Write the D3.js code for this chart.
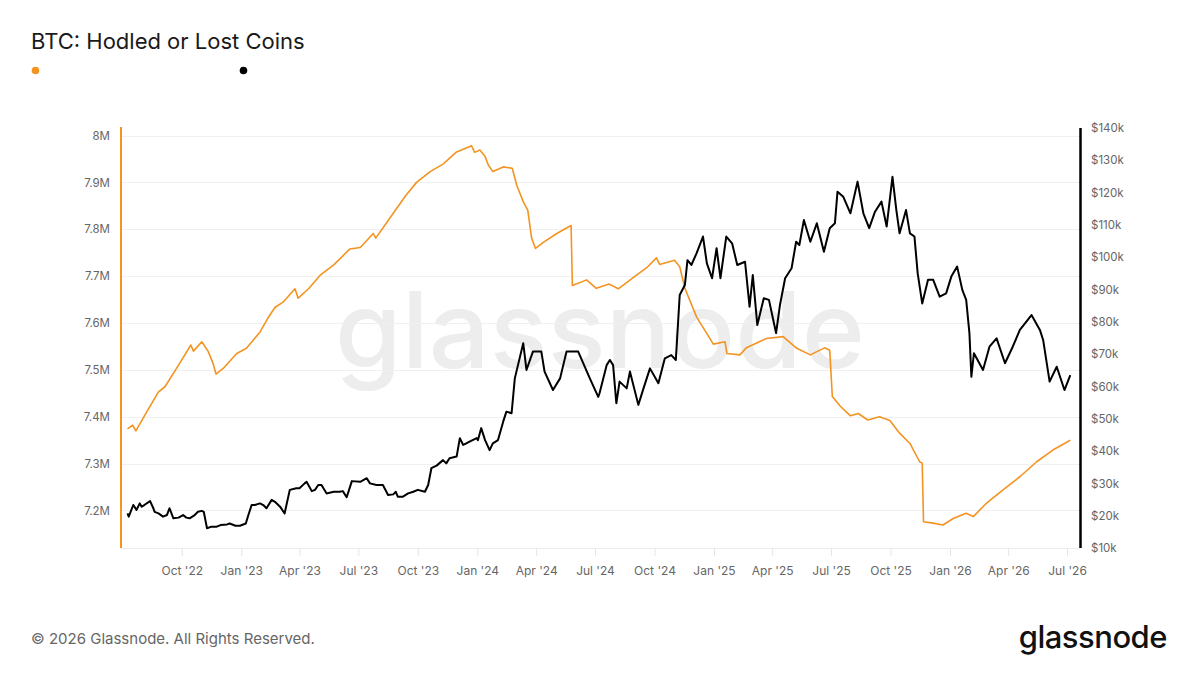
<!DOCTYPE html>
<html>
<head>
<meta charset="utf-8">
<script src="https://cdn.jsdelivr.net/npm/d3@7"></script>
<style>
  body { margin: 0; background: #fff; }
  svg { font-family: Inter, "Noto Sans", sans-serif; }
</style>
</head>
<body>
<svg width="1200" height="675"></svg>
<script>
// hodled or lost coins, millions of BTC
var coinDates = ["2022-07-09","2022-07-17","2022-07-22","2022-08-08","2022-08-26","2022-09-05","2022-09-26","2022-10-15","2022-10-19","2022-11-01",
  "2022-11-11","2022-11-18","2022-11-23","2022-12-04","2022-12-25","2023-01-09","2023-01-30","2023-02-11","2023-02-22","2023-03-07",
  "2023-03-25","2023-03-30","2023-04-15","2023-05-03","2023-05-24","2023-06-18","2023-07-04","2023-07-18","2023-07-24","2023-07-28",
  "2023-08-24","2023-09-13","2023-09-29","2023-10-20","2023-11-09","2023-11-30","2023-12-23","2023-12-28","2024-01-05","2024-01-13",
  "2024-01-18","2024-01-25","2024-02-10","2024-02-24","2024-03-02","2024-03-12","2024-03-19","2024-03-25","2024-03-31","2024-04-12",
  "2024-05-03","2024-05-25","2024-05-27","2024-06-18","2024-07-03","2024-07-23","2024-08-06","2024-08-29","2024-09-19","2024-10-04",
  "2024-10-09","2024-11-01","2024-11-09","2024-11-17","2024-12-05","2024-12-31","2025-01-18","2025-01-21","2025-02-10","2025-02-20",
  "2025-03-23","2025-04-18","2025-05-09","2025-05-30","2025-06-21","2025-06-29","2025-07-03","2025-07-15","2025-07-31","2025-08-12",
  "2025-08-27","2025-09-14","2025-09-30","2025-10-15","2025-10-31","2025-11-15","2025-11-19","2025-11-21","2025-12-06","2025-12-21",
  "2026-01-06","2026-01-26","2026-02-06","2026-02-26","2026-03-24","2026-04-19","2026-05-15","2026-06-09","2026-07-06"];
var coinValues = [7.374,7.382,7.370,7.411,7.453,7.464,7.510,7.553,7.540,7.560,
  7.539,7.515,7.491,7.503,7.535,7.546,7.581,7.610,7.633,7.645,
  7.673,7.653,7.673,7.702,7.724,7.758,7.761,7.782,7.791,7.781,
  7.834,7.873,7.900,7.923,7.939,7.965,7.978,7.964,7.969,7.955,
  7.937,7.923,7.933,7.930,7.894,7.859,7.841,7.781,7.759,7.772,
  7.791,7.808,7.680,7.692,7.674,7.683,7.673,7.697,7.718,7.739,
  7.725,7.734,7.720,7.674,7.613,7.555,7.560,7.535,7.532,7.547,
  7.567,7.571,7.546,7.532,7.547,7.542,7.443,7.423,7.402,7.407,
  7.393,7.400,7.392,7.365,7.343,7.304,7.301,7.176,7.173,7.169,
  7.183,7.194,7.187,7.215,7.244,7.272,7.304,7.329,7.350];

// BTC price, $k
var priceDates = ["2022-07-09","2022-07-11","2022-07-16","2022-07-18","2022-07-23","2022-07-28","2022-07-31","2022-08-04","2022-08-13","2022-08-18",
  "2022-08-20","2022-08-26","2022-09-02","2022-09-08","2022-09-12","2022-09-18","2022-09-26","2022-10-03","2022-10-08","2022-10-13",
  "2022-10-21","2022-10-26","2022-11-01","2022-11-04","2022-11-09","2022-11-16","2022-11-24","2022-11-30","2022-12-10","2022-12-14",
  "2022-12-23","2022-12-30","2023-01-08","2023-01-12","2023-01-17","2023-01-22","2023-01-30","2023-02-04","2023-02-09","2023-02-17",
  "2023-02-22","2023-03-02","2023-03-09","2023-03-17","2023-03-27","2023-04-01","2023-04-09","2023-04-12","2023-04-20","2023-04-25",
  "2023-04-30","2023-05-05","2023-05-13","2023-05-24","2023-06-02","2023-06-07","2023-06-13","2023-06-21","2023-07-04","2023-07-14",
  "2023-07-19","2023-07-29","2023-08-08","2023-08-16","2023-08-24","2023-08-28","2023-08-31","2023-09-08","2023-09-16","2023-09-24",
  "2023-10-01","2023-10-12","2023-10-17","2023-10-22","2023-10-30","2023-11-09","2023-11-14","2023-11-19","2023-11-30","2023-12-05",
  "2023-12-10","2023-12-15","2023-12-20","2023-12-31","2024-01-02","2024-01-07","2024-01-13","2024-01-20","2024-01-25","2024-02-02",
  "2024-02-10","2024-02-15","2024-02-23","2024-02-28","2024-03-12","2024-03-17","2024-03-27","2024-04-09","2024-04-14","2024-04-27",
  "2024-05-08","2024-05-18","2024-06-05","2024-06-23","2024-07-06","2024-07-08","2024-07-19","2024-07-24","2024-07-29","2024-08-03",
  "2024-08-08","2024-08-19","2024-08-24","2024-09-06","2024-09-14","2024-09-24","2024-10-07","2024-10-17","2024-10-27","2024-11-03",
  "2024-11-09","2024-11-17","2024-11-21","2024-11-27","2024-12-05","2024-12-15","2024-12-21","2024-12-29","2025-01-05","2025-01-11",
  "2025-01-20","2025-01-29","2025-02-06","2025-02-18","2025-02-25","2025-03-02","2025-03-09","2025-03-19","2025-03-27","2025-04-01",
  "2025-04-07","2025-04-13","2025-04-21","2025-05-01","2025-05-08","2025-05-13","2025-05-20","2025-05-30","2025-06-09","2025-06-20",
  "2025-06-29","2025-07-07","2025-07-11","2025-07-20","2025-07-31","2025-08-11","2025-08-20","2025-08-29","2025-09-07","2025-09-17",
  "2025-09-25","2025-10-04","2025-10-10","2025-10-15","2025-10-25","2025-10-31","2025-11-07","2025-11-12","2025-11-19","2025-11-28",
  "2025-12-06","2025-12-16","2025-12-26","2026-01-03","2026-01-12","2026-01-20","2026-01-26","2026-01-31","2026-02-03","2026-02-07",
  "2026-02-21","2026-03-03","2026-03-14","2026-03-27","2026-04-08","2026-04-19","2026-05-07","2026-05-20","2026-05-25","2026-06-04",
  "2026-06-15","2026-06-27","2026-07-06"];
var priceValues = [20.7,19.7,22.3,23.3,21.8,23.8,22.8,23.3,24.5,22.3,
  21.2,20.7,19.7,20.2,22.3,19.2,19.4,20.2,19.4,19.2,
  20.2,21.2,21.5,21.2,16.1,16.6,16.6,17.1,17.3,17.6,
  16.9,16.9,17.6,20.2,23.3,23.3,23.8,23.3,22.3,24.9,
  24.3,22.8,20.7,28.0,28.5,28.5,30.0,30.5,27.6,28.0,
  29.5,29.5,26.9,27.4,27.4,27.6,25.7,30.7,30.5,31.6,
  30.0,29.5,29.5,26.4,26.6,27.4,25.9,25.9,26.9,27.4,
  28.0,27.4,29.5,34.7,35.5,37.2,36.2,37.8,38.3,44.0,
  41.9,42.4,42.9,44.0,43.4,47.1,43.4,40.3,42.4,43.4,
  49.1,52.2,51.7,62.5,73.4,65.1,70.8,70.8,64.6,58.9,
  62.5,70.8,70.8,62.5,56.8,57.9,66.6,68.2,66.6,54.8,
  61.5,59.4,64.6,54.3,59.4,65.6,61.0,68.7,69.7,68.2,
  88.3,91.4,99.1,97.6,101.2,106.4,98.1,93.5,102.8,93.5,
  106.4,104.3,97.6,98.6,84.7,94.5,79.0,87.3,86.8,82.1,
  76.5,85.2,93.5,96.6,104.8,103.8,111.5,104.8,110.5,101.7,
  109.0,110.5,120.3,118.7,113.6,123.4,113.6,109.0,114.1,117.2,
  109.5,124.9,114.6,107.4,114.6,107.4,106.4,95.0,85.7,93.0,
  93.0,87.8,88.8,94.0,97.1,89.9,86.8,76.5,63.0,70.3,
  65.1,72.3,74.9,67.2,72.3,77.5,82.1,77.5,74.4,61.5,
  66.1,58.9,63.5];

var coinTicks = [7.2, 7.3, 7.4, 7.5, 7.6, 7.7, 7.8, 7.9, 8.0];
var priceTicks = [10, 20, 30, 40, 50, 60, 70, 80, 90, 100, 110, 120, 130, 140];

var orange = "#f39422";
var parse = d3.timeParse("%Y-%m-%d");
var coins = coinDates.map(function(d, i) { return { date: parse(d), v: coinValues[i] }; });
var prices = priceDates.map(function(d, i) { return { date: parse(d), v: priceValues[i] }; });

var svg = d3.select("svg");
var plotL = 121, plotR = 1080, plotT = 128, plotB = 548;

var x = d3.scaleTime()
  .domain([parse("2022-06-29"), parse("2026-07-21")])
  .range([plotL, plotR]);
var yL = d3.scaleLinear().domain([7.12, 8.016]).range([plotB, plotT]);
var yR = d3.scaleLinear().domain([10, 140]).range([plotB, plotT]);
var dateTicks = d3.timeMonth.every(3).range(parse("2022-10-01"), parse("2026-07-02"));

// title + legend dots
svg.append("text").attr("x", 31).attr("y", 49)
  .attr("font-size", 22).attr("fill", "#1a1a1a").text("BTC: Hodled or Lost Coins");
svg.append("circle").attr("cx", 35.5).attr("cy", 70.5).attr("r", 3.8).attr("fill", orange);
svg.append("circle").attr("cx", 243.5).attr("cy", 70.5).attr("r", 3.8).attr("fill", "#000");

// watermark
svg.append("text").attr("x", 600).attr("y", 368).attr("text-anchor", "middle")
  .attr("font-size", 106).attr("font-weight", 500).attr("fill", "#ededed")
  .attr("textLength", 530).attr("lengthAdjust", "spacingAndGlyphs")
  .text("glassnode");

// grid
svg.append("g").selectAll("line").data(coinTicks).enter().append("line")
  .attr("x1", plotL).attr("x2", plotR)
  .attr("y1", function(d) { return Math.round(yL(d)) + 0.5; })
  .attr("y2", function(d) { return Math.round(yL(d)) + 0.5; })
  .attr("stroke", "#f0f0f0");
svg.append("line").attr("x1", plotL).attr("x2", plotR).attr("y1", plotB + 0.5).attr("y2", plotB + 0.5)
  .attr("stroke", "#ececec");

// x axis
var xAxis = svg.append("g").attr("transform", "translate(0," + plotB + ")")
  .call(d3.axisBottom(x).tickValues(dateTicks).tickFormat(d3.timeFormat("%b '%y")).tickSize(8).tickPadding(10));
xAxis.select(".domain").remove();
xAxis.selectAll(".tick line").attr("stroke", "#e6e6e6");
xAxis.selectAll("text").attr("fill", "#666").attr("font-size", 12).attr("font-family", "Inter, sans-serif");

// left axis
var lAxis = svg.append("g").attr("transform", "translate(" + plotL + ",0)")
  .call(d3.axisLeft(yL).tickValues(coinTicks).tickFormat(function(d) { return d3.format(".1~f")(d) + "M"; }).tickSize(0).tickPadding(11));
lAxis.select(".domain").remove();
lAxis.selectAll("text").attr("fill", "#666").attr("font-size", 11.5).attr("font-family", "Inter, sans-serif");
svg.append("line").attr("x1", plotL).attr("x2", plotL).attr("y1", plotT - 1).attr("y2", plotB)
  .attr("stroke", orange).attr("stroke-width", 2);

// right axis
var rAxis = svg.append("g").attr("transform", "translate(" + plotR + ",0)")
  .call(d3.axisRight(yR).tickValues(priceTicks).tickFormat(function(d) { return "$" + d + "k"; }).tickSize(0).tickPadding(11));
rAxis.select(".domain").remove();
rAxis.selectAll("text").attr("fill", "#666").attr("font-size", 11.5).attr("font-family", "Inter, sans-serif");
svg.append("line").attr("x1", plotR + 0.5).attr("x2", plotR + 0.5).attr("y1", plotT).attr("y2", plotB)
  .attr("stroke", "#000").attr("stroke-width", 2.5);

// lines
var coinLine = d3.line().x(function(d) { return x(d.date); }).y(function(d) { return yL(d.v); });
var priceLine = d3.line().x(function(d) { return x(d.date); }).y(function(d) { return yR(d.v); });

svg.append("path").datum(coins).attr("d", coinLine)
  .attr("fill", "none").attr("stroke", orange).attr("stroke-width", 1.6).attr("stroke-linejoin", "round");
svg.append("path").datum(prices).attr("d", priceLine)
  .attr("fill", "none").attr("stroke", "#000").attr("stroke-width", 2).attr("stroke-linejoin", "round");

// footer
svg.append("text").attr("x", 31).attr("y", 644).attr("font-size", 15).attr("fill", "#666")
  .text("© 2026 Glassnode. All Rights Reserved.");
svg.append("text").attr("x", 1167).attr("y", 648).attr("text-anchor", "end")
  .attr("font-size", 31).attr("font-weight", 500).attr("fill", "#111").attr("letter-spacing", -0.5)
  .text("glassnode");
</script>
</body>
</html>
